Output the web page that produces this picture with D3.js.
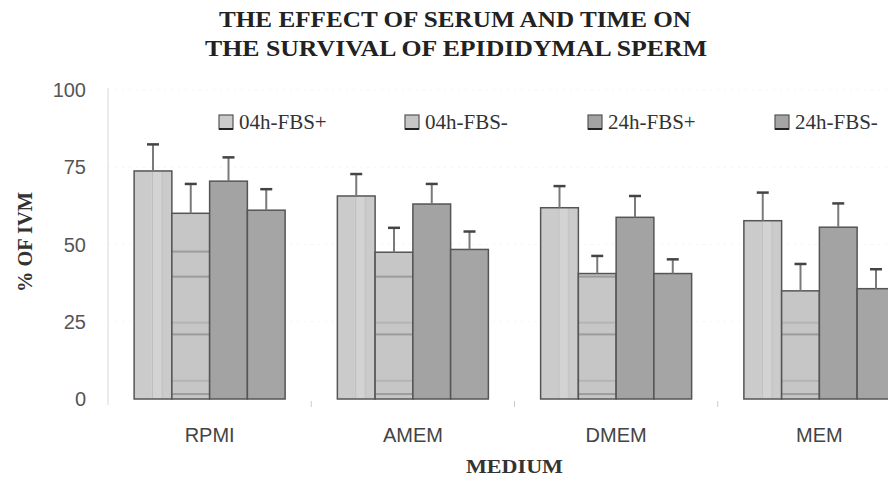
<!DOCTYPE html>
<html>
<head>
<meta charset="utf-8">
<script src="https://cdnjs.cloudflare.com/ajax/libs/d3/7.8.5/d3.min.js"></script>
<style>
  body { margin: 0; background: #fff; }
  svg { display: block; }
</style>
</head>
<body>
<script>
// data
var media = ["RPMI", "AMEM", "DMEM", "MEM"];
var groups = ["04h-FBS+", "04h-FBS-", "24h-FBS+", "24h-FBS-"];
var fbs04p = [73.8, 65.7, 61.9, 57.7];
var fbs04m = [60.1, 47.5, 40.6, 35.0];
var fbs24p = [70.5, 63.1, 58.8, 55.6];
var fbs24m = [61.1, 48.4, 40.6, 35.7];
var err04p = [8.6, 7.1, 7.0, 9.1];
var err04m = [9.5, 7.9, 5.7, 8.7];
var err24p = [7.7, 6.5, 6.9, 7.7];
var err24m = [6.8, 5.8, 4.6, 6.3];
var yTicks = [0, 25, 50, 75, 100];

var means = [fbs04p, fbs04m, fbs24p, fbs24m];
var errs = [err04p, err04m, err24p, err24m];

var W = 888, H = 485;
// plot runs past the right edge, as in the reference
var margin = { left: 108, top: 90, bottom: 86 },
    plotW = 813,
    plotH = H - margin.top - margin.bottom;

var svg = d3.select("body").append("svg")
    .attr("width", W)
    .attr("height", H);

var fills = ["#cbcbcb", "#c6c6c6", "#a3a3a3", "#a5a5a5"];
var sans = "Liberation Sans, Arial, sans-serif";
var serif = "Liberation Serif, Times New Roman, serif";

var defs = svg.append("defs");
// faint vertical streaks for the first series
var p1 = defs.append("pattern").attr("id", "pat0")
    .attr("patternUnits", "objectBoundingBox").attr("width", 1).attr("height", 1)
    .attr("patternContentUnits", "objectBoundingBox");
p1.append("rect").attr("width", 1).attr("height", 1).attr("fill", fills[0]);
p1.append("rect").attr("x", 0.45).attr("width", 0.3).attr("height", 1).attr("fill", "#d3d3d3");
p1.append("rect").attr("x", 0.47).attr("width", 0.025).attr("height", 1).attr("fill", "#b9b9b9");
p1.append("rect").attr("x", 0.73).attr("width", 0.025).attr("height", 1).attr("fill", "#bcbcbc");

var g = svg.append("g")
    .attr("transform", "translate(" + margin.left + "," + margin.top + ")");

var y = d3.scaleLinear().domain([0, 100]).range([plotH, 0]);
var x0 = d3.scaleBand().domain(media).range([0, plotW])
    .paddingInner(0.257).paddingOuter(0.1285);
var x1 = d3.scaleBand().domain(groups).range([0, x0.bandwidth()]);

// horizontal streaks for the second series, fixed in plot space
var p2 = defs.append("pattern").attr("id", "pat1")
    .attr("patternUnits", "userSpaceOnUse")
    .attr("x", 0).attr("y", 0).attr("width", plotW).attr("height", plotH);
p2.append("rect").attr("width", plotW).attr("height", plotH).attr("fill", fills[1]);
[[47.7, "#9c9c9c"], [39.6, "#9c9c9c"], [24.7, "#b4b4b4"], [20.9, "#9c9c9c"], [5.9, "#b4b4b4"], [1.6, "#9c9c9c"]]
  .forEach(function(s) {
    p2.append("rect").attr("x", 0).attr("width", plotW)
      .attr("y", y(s[0]) - 1).attr("height", 2).attr("fill", s[1]);
  });

// faint gridlines
g.append("g").selectAll("line")
    .data(yTicks.filter(function(d) { return d > 0; }))
    .enter().append("line")
    .attr("x1", 0).attr("x2", plotW)
    .attr("y1", function(d) { return y(d); })
    .attr("y2", function(d) { return y(d); })
    .attr("stroke", "#f3f3f3")
    .attr("stroke-dasharray", "2,5");

// y axis line
g.append("line")
    .attr("x1", 0).attr("x2", 0)
    .attr("y1", y(100) - 2).attr("y2", plotH + 6)
    .attr("stroke", "#d8d8d8");

// category separator ticks
g.append("g").selectAll("line")
    .data(media.slice(1))
    .enter().append("line")
    .attr("x1", function(d) { return x0(d) - x0.step() * x0.paddingInner() / 2; })
    .attr("x2", function(d) { return x0(d) - x0.step() * x0.paddingInner() / 2; })
    .attr("y1", plotH + 2).attr("y2", plotH + 8)
    .attr("stroke", "#cccccc");

// y tick labels
g.append("g").selectAll("text")
    .data(yTicks)
    .enter().append("text")
    .attr("x", -22)
    .attr("y", function(d) { return y(d); })
    .attr("dy", "0.36em")
    .attr("text-anchor", "end")
    .attr("font-family", sans)
    .attr("font-size", 20)
    .attr("fill", "#555")
    .text(function(d) { return d; });

// bars
var rows = [];
means.forEach(function(vals, si) {
  vals.forEach(function(v, ci) {
    rows.push({ m: media[ci], s: groups[si], si: si, v: v, e: errs[si][ci] });
  });
});

g.append("g").selectAll("rect")
    .data(rows)
    .enter().append("rect")
    .attr("x", function(d) { return x0(d.m) + x1(d.s); })
    .attr("y", function(d) { return y(d.v); })
    .attr("width", x1.bandwidth())
    .attr("height", function(d) { return plotH - y(d.v); })
    .attr("fill", function(d) { return d.si < 2 ? "url(#pat" + d.si + ")" : fills[d.si]; })
    .attr("stroke", "#555")
    .attr("stroke-width", 1.5);

// error bars (upper only)
var eb = g.append("g").selectAll("g")
    .data(rows)
    .enter().append("g")
    .attr("transform", function(d) { return "translate(" + (x0(d.m) + x1(d.s) + x1.bandwidth() / 2) + ",0)"; });
eb.append("line")
    .attr("y1", function(d) { return y(d.v); })
    .attr("y2", function(d) { return y(d.v + d.e); })
    .attr("stroke", "#7a7a7a")
    .attr("stroke-width", 2);
eb.append("line")
    .attr("x1", -6).attr("x2", 6)
    .attr("y1", function(d) { return y(d.v + d.e); })
    .attr("y2", function(d) { return y(d.v + d.e); })
    .attr("stroke", "#444")
    .attr("stroke-width", 2.5);

// x labels
g.append("g").selectAll("text")
    .data(media)
    .enter().append("text")
    .attr("x", function(d) { return x0(d) + x0.bandwidth() / 2; })
    .attr("y", plotH + 43)
    .attr("text-anchor", "middle")
    .attr("font-family", sans)
    .attr("font-size", 20)
    .attr("fill", "#444")
    .text(function(d) { return d; });

// legend
var legX = [219, 405, 588, 775];
var leg = svg.append("g").selectAll("g")
    .data(groups)
    .enter().append("g")
    .attr("transform", function(d, i) { return "translate(" + legX[i] + ",115)"; });
leg.append("rect")
    .attr("width", 14).attr("height", 14)
    .attr("fill", function(d, i) { return fills[i]; })
    .attr("stroke", "#555")
    .attr("stroke-width", 1.2);
leg.append("line")
    .attr("x1", 0).attr("x2", 14).attr("y1", 14).attr("y2", 14)
    .attr("stroke", "#222").attr("stroke-width", 2);
leg.append("text")
    .attr("x", 20).attr("y", 14)
    .attr("font-family", serif)
    .attr("font-size", 21)
    .attr("fill", "#333")
    .text(function(d) { return d; });

// titles
svg.append("text")
    .attr("x", 455).attr("y", 27)
    .attr("text-anchor", "middle")
    .attr("font-family", serif).attr("font-weight", "bold")
    .attr("font-size", 24).attr("fill", "#222")
    .attr("textLength", 472).attr("lengthAdjust", "spacingAndGlyphs")
    .text("THE EFFECT OF SERUM AND TIME ON");
svg.append("text")
    .attr("x", 456).attr("y", 56)
    .attr("text-anchor", "middle")
    .attr("font-family", serif).attr("font-weight", "bold")
    .attr("font-size", 24).attr("fill", "#222")
    .attr("textLength", 502).attr("lengthAdjust", "spacingAndGlyphs")
    .text("THE SURVIVAL OF EPIDIDYMAL SPERM");

svg.append("text")
    .attr("transform", "translate(32,242) rotate(-90)")
    .attr("text-anchor", "middle")
    .attr("font-family", serif).attr("font-weight", "bold")
    .attr("font-size", 20).attr("fill", "#333")
    .attr("textLength", 100).attr("lengthAdjust", "spacingAndGlyphs")
    .text("% OF IVM");

svg.append("text")
    .attr("x", margin.left + plotW / 2).attr("y", 473)
    .attr("text-anchor", "middle")
    .attr("font-family", serif).attr("font-weight", "bold")
    .attr("font-size", 19).attr("fill", "#333")
    .attr("textLength", 97).attr("lengthAdjust", "spacingAndGlyphs")
    .text("MEDIUM");
</script>
</body>
</html>
